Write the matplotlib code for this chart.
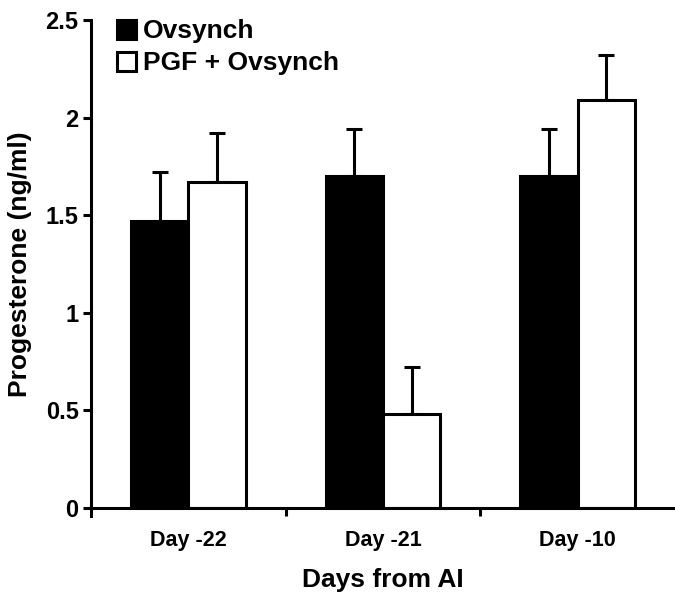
import numpy as np
import matplotlib
matplotlib.use('Agg')
import matplotlib.pyplot as plt

plt.rcParams['font.family'] = ['Liberation Sans', 'DejaVu Sans']
plt.rcParams['font.weight'] = 'bold'

days = ['Day -22', 'Day -21', 'Day -10']
ovsynch = [1.47, 1.70, 1.70]
ovsynch_err = [0.25, 0.24, 0.24]
pgf_ovsynch = [1.67, 0.48, 2.09]
pgf_ovsynch_err = [0.25, 0.24, 0.23]

fig = plt.figure(figsize=(6.75, 5.92), dpi=100)
ax = fig.add_axes([0.135, 0.142, 0.865, 0.824])

x = np.arange(len(days))
w = 0.295
lw = 2.2
ax.bar(x - w / 2, ovsynch, w, color='black', edgecolor='black', linewidth=lw, label='Ovsynch', zorder=2)
ax.bar(x + w / 2, pgf_ovsynch, w, color='white', edgecolor='black', linewidth=lw, label='PGF + Ovsynch', zorder=2)
ax.errorbar(x - w / 2, ovsynch, yerr=[np.zeros(3), ovsynch_err], fmt='none', ecolor='black',
            elinewidth=lw, capsize=5.5, capthick=lw, zorder=1)
ax.errorbar(x + w / 2, pgf_ovsynch, yerr=[np.zeros(3), pgf_ovsynch_err], fmt='none', ecolor='black',
            elinewidth=lw, capsize=5.5, capthick=lw, zorder=1)

ax.set_xlim(-0.5, 2.5)
ax.set_ylim(0, 2.5)
ax.set_yticks([0, 0.5, 1, 1.5, 2, 2.5])
ax.set_yticklabels(['0', '0.5', '1', '1.5', '2', '2.5'])
ax.set_xticks(x)
ax.set_xticklabels(days)
ax.set_xticks([0.5, 1.5], minor=True)
ax.tick_params(axis='x', which='major', length=0, pad=16, labelsize=15.5)
ax.tick_params(axis='x', which='minor', length=6, width=lw, direction='out')
ax.tick_params(axis='y', length=6, width=lw, direction='out', labelsize=17, pad=3)

for s in ['top', 'right']:
    ax.spines[s].set_visible(False)
for s in ['left', 'bottom']:
    ax.spines[s].set_linewidth(lw)
ax.spines['left'].set_bounds(-0.04, 2.5)

ax.set_ylabel('Progesterone (ng/ml)', fontsize=19, fontweight='bold', labelpad=10)
ax.set_xlabel('Days from AI', fontsize=19, fontweight='bold', labelpad=12)

ax.legend(loc='upper left', bbox_to_anchor=(0.003, 1.05), frameon=False, fontsize=19,
          handlelength=0.75, handleheight=0.75, handletextpad=0.25, labelspacing=0.3)

fig.savefig('out.png', dpi=100)
